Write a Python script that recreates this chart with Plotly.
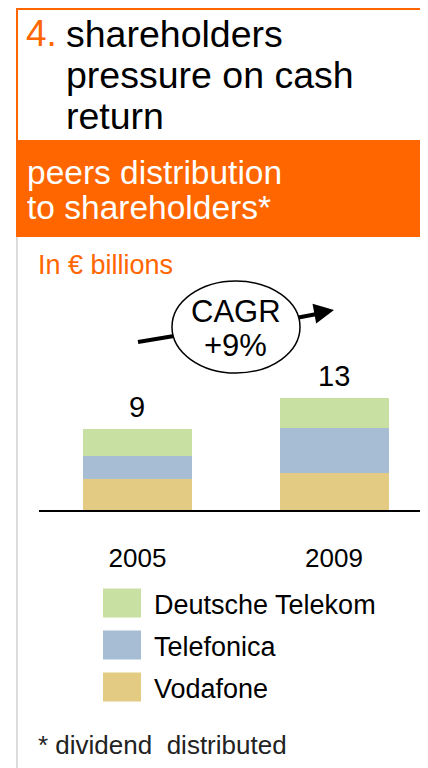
import plotly.graph_objects as go

# data (in EUR billions)
years = ["2005", "2009"]
vodafone = [3.4, 4.1]
telefonica = [2.6, 5.0]
deutsche_telekom = [3.0, 3.4]
totals = [9, 13]
series_names = ["Vodafone", "Telefonica", "Deutsche Telekom"]
series_colors = ["#E4CB84", "#A6BDD3", "#C8E0A2"]

title_lines = ["shareholders", "pressure on cash", "return"]
band_lines = ["peers distribution", "to shareholders*"]
unit_label = "In € billions"
cagr_lines = ["CAGR", "+9%"]
footnote = "* dividend\u00a0 distributed"

# page body has an 8px margin, so the figure is a bit smaller and coords are shifted
OFF = 8
W, H = 428 - OFF, 768 - OFF
ORANGE = "#FF6600"
FONT = "Liberation Sans, Arial, sans-serif"


def px(x):
    return (x - OFF) / W


def py(y):
    return 1 - (y - OFF) / H


fig = go.Figure()
for name, vals, color in zip(series_names, [vodafone, telefonica, deutsche_telekom], series_colors):
    fig.add_trace(go.Bar(x=years, y=vals, name=name, marker=dict(color=color, line=dict(width=0)),
                         hoverinfo="x+y+name"))

shapes = []
annotations = []

# frame and orange header band
shapes.append(dict(type="line", xref="paper", yref="paper", x0=px(16), x1=px(428), y0=py(9), y1=py(9),
                   line=dict(color=ORANGE, width=2)))
shapes.append(dict(type="line", xref="paper", yref="paper", x0=px(17), x1=px(17), y0=py(8), y1=py(140),
                   line=dict(color=ORANGE, width=2)))
shapes.append(dict(type="line", xref="paper", yref="paper", x0=px(17), x1=px(17), y0=py(237), y1=0,
                   line=dict(color="#DCDCDC", width=2)))
shapes.append(dict(type="rect", xref="paper", yref="paper", x0=px(16), x1=px(428), y0=py(237), y1=py(140),
                   fillcolor=ORANGE, line=dict(width=0)))

annotations.append(dict(text="4.", xref="paper", yref="paper", x=px(24), y=py(34), xanchor="left",
                        yanchor="middle", showarrow=False, font=dict(family=FONT, size=37, color=ORANGE)))
for i, line in enumerate(title_lines):
    annotations.append(dict(text=line, xref="paper", yref="paper", x=px(64), y=py(34 + 41 * i),
                            xanchor="left", yanchor="middle", showarrow=False,
                            font=dict(family=FONT, size=37.5, color="black")))
for i, line in enumerate(band_lines):
    annotations.append(dict(text=line, xref="paper", yref="paper", x=px(25), y=py(172 + 36 * i),
                            xanchor="left", yanchor="middle", showarrow=False,
                            font=dict(family=FONT, size=33.5, color="white")))
annotations.append(dict(text=unit_label, xref="paper", yref="paper", x=px(36), y=py(265), xanchor="left",
                        yanchor="middle", showarrow=False, font=dict(family=FONT, size=27, color=ORANGE)))

# CAGR bubble with arrow
shapes.append(dict(type="line", xref="paper", yref="paper", x0=px(138), y0=py(342), x1=px(174), y1=py(336),
                   line=dict(color="black", width=4)))
shapes.append(dict(type="line", xref="paper", yref="paper", x0=px(296), y0=py(318), x1=px(322), y1=py(313),
                   line=dict(color="black", width=4)))
shapes.append(dict(type="circle", xref="paper", yref="paper", x0=px(172), x1=px(300), y0=py(373), y1=py(281),
                   fillcolor="white", line=dict(color="black", width=1.5)))
annotations.append(dict(text="", xref="paper", yref="paper", x=px(334), y=py(310), ax=-16, ay=3,
                        showarrow=True, arrowhead=2, arrowsize=1, arrowwidth=4, arrowcolor="black"))
for i, line in enumerate(cagr_lines):
    annotations.append(dict(text=line, xref="paper", yref="paper", x=px(236), y=py(311 + 35 * i),
                            xanchor="center", yanchor="middle", showarrow=False,
                            font=dict(family=FONT, size=31, color="black")))

# totals above the bars (category index as x)
stack = [v + t + d for v, t, d in zip(vodafone, telefonica, deutsche_telekom)]
for i, (top, tot) in enumerate(zip(stack, totals)):
    annotations.append(dict(text=str(tot), x=i, y=top, xref="x", yref="y", yshift=22, showarrow=False,
                            xanchor="center", yanchor="middle", font=dict(family=FONT, size=29, color="black")))

# legend with large swatches
for i, (name, color) in enumerate(zip(series_names[::-1], series_colors[::-1])):
    cy = 603 + 42 * i
    shapes.append(dict(type="rect", xref="paper", yref="paper", x0=px(103), x1=px(141), y0=py(cy + 14.5),
                       y1=py(cy - 14.5), fillcolor=color, line=dict(width=0)))
    annotations.append(dict(text=name, xref="paper", yref="paper", x=px(152), y=py(cy + 2), xanchor="left",
                            yanchor="middle", showarrow=False, font=dict(family=FONT, size=27, color="black")))

annotations.append(dict(text=footnote, xref="paper", yref="paper", x=px(36), y=py(745), xanchor="left",
                        yanchor="middle", showarrow=False, font=dict(family=FONT, size=26, color="#222222")))

fig.update_layout(
    barmode="stack",
    bargap=0.445,
    width=W, height=H,
    margin=dict(l=0, r=0, t=0, b=0),
    plot_bgcolor="white", paper_bgcolor="white",
    showlegend=False,
    font=dict(family=FONT, color="black"),
    xaxis=dict(type="category", domain=[(39 - OFF) / W, 1], range=[-0.501, 1.478], showline=True,
               linecolor="black", linewidth=2, ticks="outside", ticklen=24, tickcolor="rgba(0,0,0,0)",
               showgrid=False, zeroline=False, tickfont=dict(family=FONT, size=26, color="black"),
               fixedrange=True),
    yaxis=dict(domain=[1 - (510 - OFF) / H, 1], range=[0, (510 - OFF) / 9], visible=False, fixedrange=True),
    shapes=shapes,
    annotations=annotations,
)

fig.write_html("out.html")
